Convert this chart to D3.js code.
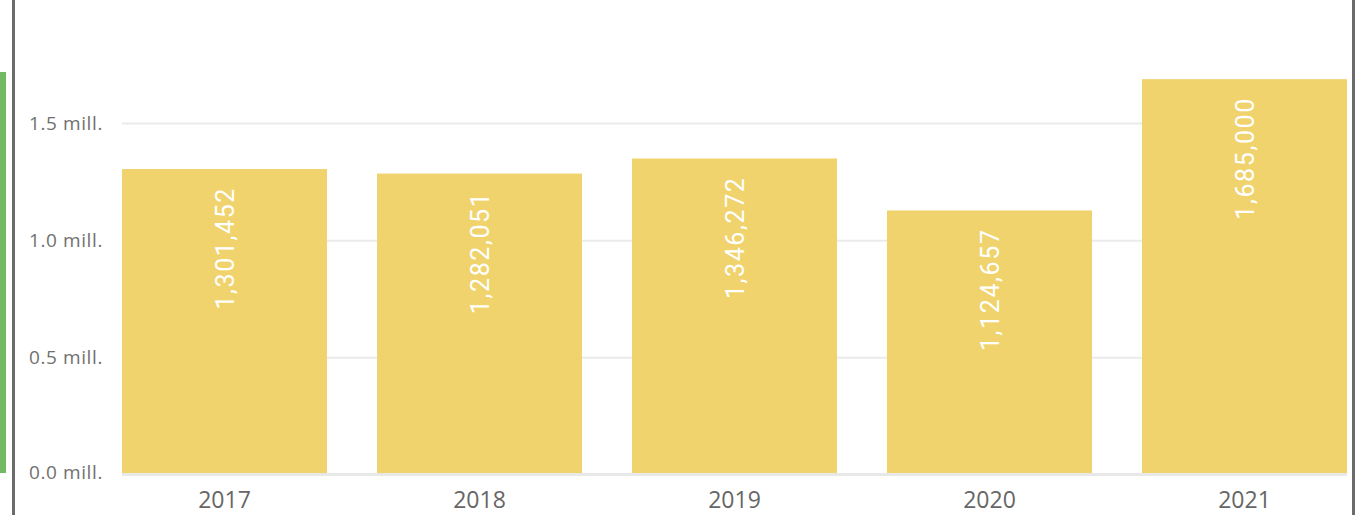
<!DOCTYPE html>
<html>
<head>
<meta charset="utf-8">
<script src="https://cdn.jsdelivr.net/npm/d3@7"></script>
<style>
  body { margin: 0; background: #fff; }
  svg { display: block; }
</style>
</head>
<body>
<svg width="1355" height="515"></svg>
<script>
const years = ['2017', '2018', '2019', '2020', '2021'];
const values = [1301452, 1282051, 1346272, 1124657, 1685000];
const yTicks = [0, 500000, 1000000, 1500000];

const svg = d3.select('svg');

// frame pieces
svg.append('rect').attr('x', 0).attr('y', 72).attr('width', 6).attr('height', 401).attr('fill', '#71B965');
svg.append('rect').attr('x', 12).attr('y', 0).attr('width', 3).attr('height', 515).attr('fill', '#6b6b6b');
svg.append('rect').attr('x', 1352).attr('y', 0).attr('width', 3).attr('height', 515).attr('fill', '#6b6b6b');

const x = d3.scaleBand().domain(years).range([122, 1347]).paddingInner(50 / 255).paddingOuter(0);
const y = d3.scaleLinear().domain([0, 1500000]).range([475, 123.5]);

// gridlines
svg.append('g').selectAll('line').data(yTicks.slice(1)).join('line')
  .attr('x1', 122).attr('x2', 1345)
  .attr('y1', d => y(d)).attr('y2', d => y(d))
  .attr('stroke', '#ebebeb').attr('stroke-width', 2);

// y labels
svg.append('g').selectAll('text').data(yTicks).join('text')
  .attr('x', 103).attr('y', d => Math.min(y(d), 473) + 6)
  .attr('text-anchor', 'end')
  .attr('font-family', 'Open Sans, sans-serif').attr('font-size', 19)
  .attr('letter-spacing', 0.6)
  .attr('fill', '#707070')
  .text(d => (d / 1e6).toFixed(1) + ' mill.');

// bars
svg.append('rect').attr('x', 122).attr('y', 473).attr('width', 1225).attr('height', 3).attr('fill', '#e8e8e8');
svg.append('g').selectAll('rect').data(values).join('rect')
  .attr('x', (d, i) => x(years[i]))
  .attr('width', x.bandwidth())
  .attr('y', d => y(d) - 1)
  .attr('height', d => 473 - y(d) + 1)
  .attr('fill', '#F0D36C');

// bar labels
svg.append('g').selectAll('text').data(values).join('text')
  .attr('transform', (d, i) => `translate(${x(years[i]) + x.bandwidth() / 2 + 9},${y(d) + 17}) rotate(-90)`)
  .attr('text-anchor', 'end')
  .attr('font-family', 'Roboto, sans-serif').attr('font-size', 25).attr('font-weight', 400)
  .attr('letter-spacing', 1.6)
  .attr('fill', '#fff')
  .text(d => d3.format(',')(d));

// x labels
svg.append('g').selectAll('text').data(years).join('text')
  .attr('x', d => x(d) + x.bandwidth() / 2).attr('y', 508)
  .attr('text-anchor', 'middle')
  .attr('font-family', 'Open Sans, sans-serif').attr('font-size', 23)
  .attr('fill', '#666')
  .text(d => d);
</script>
</body>
</html>
